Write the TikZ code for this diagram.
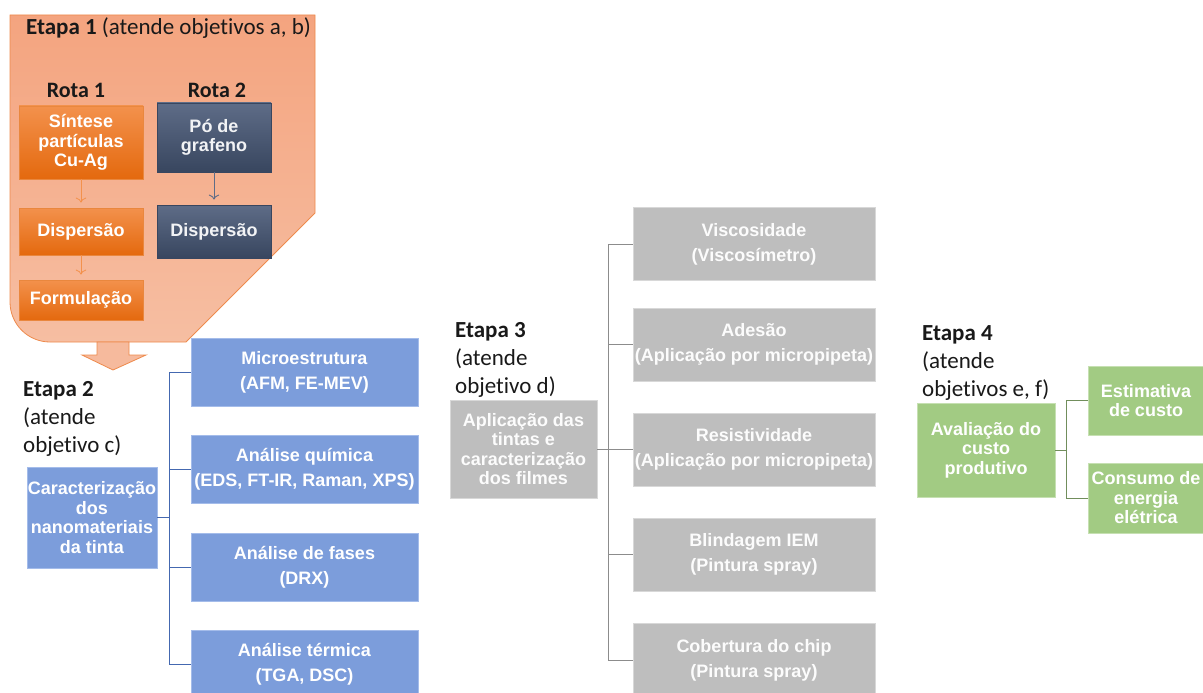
\documentclass[tikz,border=0pt]{standalone}
\usepackage{fontspec}
\setmainfont{Carlito}[Ligatures=NoCommon]
\newfontfamily\arialfont{Liberation Sans}
\usetikzlibrary{arrows.meta}

\definecolor{stageA}{HTML}{F4A47F}
\definecolor{stageB}{HTML}{F6BEA2}
\definecolor{stageline}{HTML}{EE8A4C}
\definecolor{rotaA}{HTML}{F3914C}
\definecolor{rotaB}{HTML}{E4690E}
\definecolor{darkA}{HTML}{5E6C87}
\definecolor{darkB}{HTML}{38465F}
\definecolor{blueA}{HTML}{7C9DDB}
\definecolor{blueB}{HTML}{A4BCEA}
\definecolor{blueline}{HTML}{4468B0}
\definecolor{grayA}{HTML}{BEBEBE}
\definecolor{grayB}{HTML}{D8D8D8}
\definecolor{greenA}{HTML}{A2CB83}
\definecolor{greenB}{HTML}{C6E0B2}

\newcommand\boxtxt{\arialfont\bfseries\fontsize{18}{19.5}\selectfont}
\newcommand\sidetxt{\arialfont\bfseries\fontsize{18}{25}\selectfont}
\newcommand\etapatxt{\fontsize{23}{28}\selectfont}

\begin{document}
\begin{tikzpicture}[x=1pt,y=-1pt,
box/.style={inner sep=0pt, align=center, text=white, font=\boxtxt, line width=0.8pt},
rotaone/.style={box, top color=rotaA, bottom color=rotaB, draw=rotaB!80!white},
rotatwo/.style={box, top color=darkA, bottom color=darkB, draw=darkB, text=white!92!darkA},
bluebox/.style={box, fill=blueA, draw=blueB},
blueside/.style={bluebox, minimum width=227pt, minimum height=68pt, font=\sidetxt},
graybox/.style={box, fill=grayA, draw=grayB, text=white!96!grayA},
grayside/.style={graybox, minimum width=242pt, minimum height=73pt, font=\sidetxt},
greenbox/.style={box, fill=greenA, draw=greenB},
etapa/.style={anchor=north west, align=left, inner sep=0pt, font=\etapatxt, text=black!90},
rota/.style={anchor=base, inner sep=0pt, font=\fontsize{22}{26}\selectfont\bfseries, text=black!90},
orangearrow/.style={draw=rotaA, line width=0.8pt, -{To[length=5pt]}, shorten >=5pt},
darkarrow/.style={draw=darkA, line width=0.9pt, -{To[length=5pt]}, shorten >=5pt},
bluelink/.style={draw=blueline, line width=0.9pt},
graylink/.style={draw=black!45, line width=0.9pt},
greenlink/.style={draw=greenA!70!black, line width=0.9pt}
]
\useasboundingbox (0,0) rectangle (1203,693);

\draw[stageline, line width=0.8pt, top color=stageA, bottom color=stageB] (186,342) -- (100,342) [rounded corners=40pt] -- (10,342) -- (10,200) [sharp corners] -- (10,15) -- (315,15) -- (315,213) -- cycle;
\draw[stageline, line width=0.8pt, fill=stageB!85!stageA] (97,342) -- (129,342) -- (129,355) -- (146,355) -- (113,370) -- (82,355) -- (97,355) -- cycle;

\node[anchor=base west, inner sep=0pt, font=\fontsize{23}{27}\selectfont, text=black!90] (et1) at (26,35) {\textbf{Etapa 1} (atende objetivos a, b)};
\node[rota] (r1) at (76,97) {Rota 1};
\node[rota] (r2) at (217,97) {Rota 2};

\node[rotaone, minimum width=124pt, minimum height=73pt] (sint) at (81,142.5) {Síntese\\partículas\\Cu-Ag};
\node[rotaone, minimum width=124pt, minimum height=47pt] (disp1) at (81,231.5) {Dispersão};
\node[rotaone, minimum width=124pt, minimum height=40pt] (form) at (81,300) {Formulação};
\node[rotatwo, minimum width=114pt, minimum height=69pt] (po) at (214,137.5) {Pó de\\grafeno};
\node[rotatwo, minimum width=114pt, minimum height=53pt] (disp2) at (214,231.5) {Dispersão};
\draw[orangearrow] (sint) -- (disp1);
\draw[orangearrow] (disp1) -- (form);
\draw[darkarrow] (po) -- (disp2);

\node[etapa] (et2) at (23,381) {\textbf{Etapa 2}\\(atende\\objetivo c)};
\node[bluebox, minimum width=130pt, minimum height=101pt] (carac) at (92,517.5) {Caracterização\\dos\\nanomateriais\\da tinta};
\node[blueside] (micro) at (304.5,372) {Microestrutura\\(AFM, FE-MEV)};
\node[blueside] (quim) at (304.5,469) {Análise química\\(EDS, FT-IR, Raman, XPS)};
\node[blueside] (fases) at (304.5,567) {Análise de fases\\(DRX)};
\node[blueside] (term) at (304.5,664) {Análise térmica\\(TGA, DSC)};
\foreach \n in {micro,quim,fases,term}
  \draw[bluelink] (carac.east) -- ++(12,0) |- (\n.west);

\node[etapa] (et3) at (455,322) {\textbf{Etapa 3}\\(atende\\objetivo d)};
\node[graybox, minimum width=147pt, minimum height=98pt] (apl) at (523.5,449) {Aplicação das\\tintas e\\caracterização\\dos filmes};
\node[grayside] (visc) at (754,244) {Viscosidade\\(Viscosímetro)};
\node[grayside] (ades) at (754,344.5) {Adesão\\(Aplicação por micropipeta)};
\node[grayside] (resi) at (754,449.5) {Resistividade\\(Aplicação por micropipeta)};
\node[grayside] (blin) at (754,554.5) {Blindagem IEM\\(Pintura spray)};
\node[grayside] (cobe) at (754,660) {Cobertura do chip\\(Pintura spray)};
\foreach \n in {visc,ades,resi,blin,cobe}
  \draw[graylink] (apl.east) -- ++(11,0) |- (\n.west);

\node[etapa] (et4) at (922,325) {\textbf{Etapa 4}\\(atende\\objetivos e, f)};
\node[greenbox, minimum width=138pt, minimum height=94pt] (aval) at (986,450) {Avaliação do\\custo\\produtivo};
\node[greenbox, minimum width=116pt, minimum height=69pt] (esti) at (1146,400.5) {Estimativa\\de custo};
\node[greenbox, minimum width=116pt, minimum height=70pt] (cons) at (1146,498) {Consumo de\\energia\\elétrica};
\foreach \n in {esti,cons}
  \draw[greenlink] (aval.east) -- ++(11,0) |- (\n.west);
\end{tikzpicture}
\end{document}
